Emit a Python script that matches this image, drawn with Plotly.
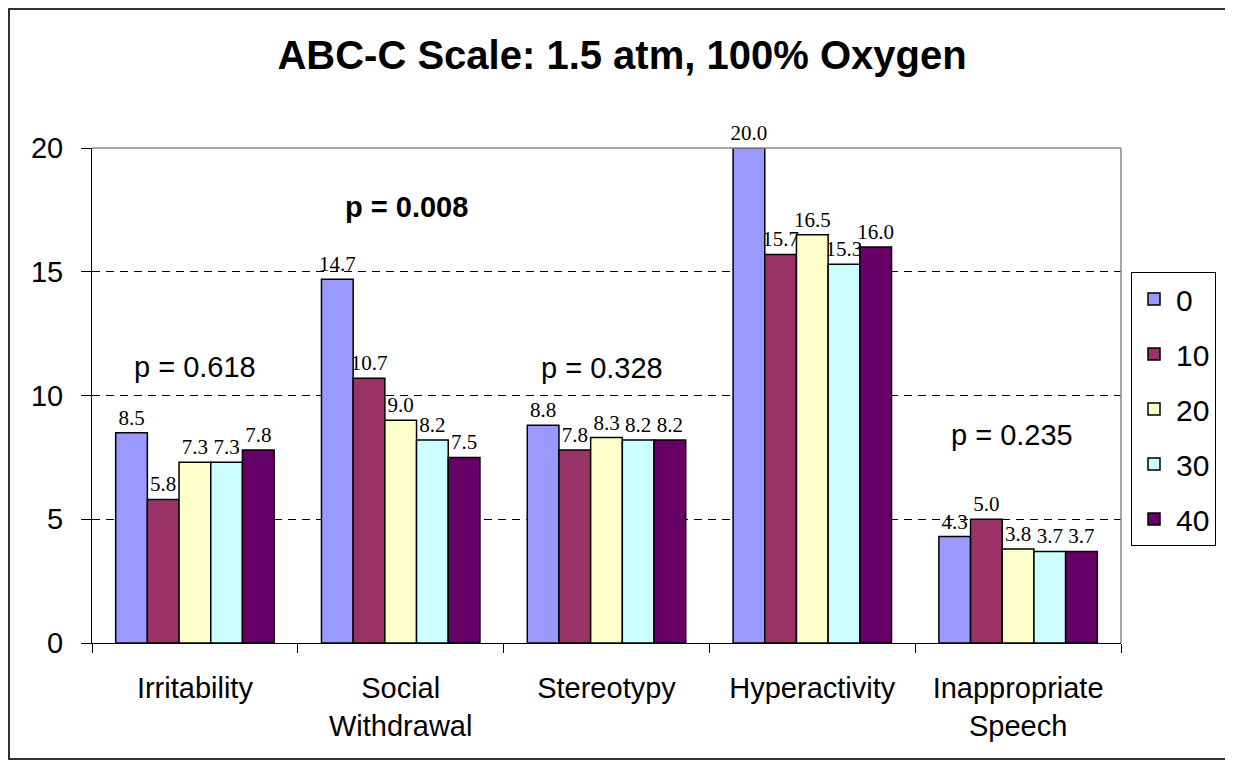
import plotly.graph_objects as go

categories = ["Irritability", "Social<br>Withdrawal", "Stereotypy", "Hyperactivity", "Inappropriate<br>Speech"]
series_names = ["0", "10", "20", "30", "40"]
values_0 = [8.5, 14.7, 8.8, 20.0, 4.3]
values_10 = [5.8, 10.7, 7.8, 15.7, 5.0]
values_20 = [7.3, 9.0, 8.3, 16.5, 3.8]
values_30 = [7.3, 8.2, 8.2, 15.3, 3.7]
values_40 = [7.8, 7.5, 8.2, 16.0, 3.7]
series_values = [values_0, values_10, values_20, values_30, values_40]
colors = ["#9999FF", "#993366", "#FFFFCC", "#CCFFFF", "#660066"]

p_labels = ["p = 0.618", "<b>p = 0.008</b>", "p = 0.328", "p = 0.187", "p = 0.235"]
p_x = [0.0, 1.03, 1.98, 3.2, 3.97]
p_y = [11.15, 17.6, 11.1, 20.95, 8.4]

y_ticks = [0, 5, 10, 15, 20]

fig = go.Figure()
for i, (name, vals) in enumerate(zip(series_names, series_values)):
    fig.add_trace(go.Bar(
        x=categories, y=vals, name=name,
        marker=dict(color=colors[i], line=dict(color="black", width=1.5)),
        text=[f"{v:.1f}" for v in vals],
        textposition="outside",
        textangle=0,
        constraintext="none",
        cliponaxis=False,
        textfont=dict(family="Liberation Serif, Times New Roman, serif", size=21, color="black"),
        legendgroup=name,
    ))

for t, x, y in zip(p_labels, p_x, p_y):
    fig.add_annotation(x=x, y=y, xref="x", yref="y", text=t, showarrow=False,
                       font=dict(family="Liberation Sans, Arial, sans-serif", size=29, color="black"),
                       xanchor="center", yanchor="middle")

W, H = 1225, 753
L, T, R, B = 84, 140, 1225 - 1113, 753 - 635
pw, ph = W - L - R, H - T - B

fig.update_layout(
    width=W, height=H,
    margin=dict(l=L, r=R, t=T, b=B),
    paper_bgcolor="white", plot_bgcolor="white",
    barmode="group", bargap=0.23, bargroupgap=0,
    font=dict(family="Liberation Sans, Arial, sans-serif", size=29, color="black"),
    title=dict(text="<b>ABC-C Scale: 1.5 atm, 100% Oxygen</b>", x=0.5045 * 1233 / W - 8 / W, xanchor="center",
               y=1 - 47 / H, yanchor="middle",
               font=dict(family="Liberation Sans, Arial, sans-serif", size=40, color="black")),
    legend=dict(x=(1131 - 8 - L) / pw, y=(635 - 264) / ph, xanchor="left", yanchor="top",
                bordercolor="black", borderwidth=1, bgcolor="white",
                font=dict(size=30), traceorder="grouped", tracegroupgap=13,
                itemwidth=34),
    xaxis=dict(showline=True, linecolor="black", linewidth=1, ticks="outside", tickson="boundaries",
               ticklen=9, tickcolor="black", showgrid=False, tickfont=dict(size=29),
               ticklabelstandoff=19),
    yaxis=dict(range=[0, 20], tickvals=y_ticks, showline=True, linecolor="black", linewidth=1,
               ticks="outside", ticklen=10, tickcolor="black", ticklabelstandoff=12,
               showgrid=True, gridcolor="black", griddash="8px,6px", gridwidth=1, zeroline=False,
               tickfont=dict(size=29)),
    shapes=[
        dict(type="line", xref="paper", yref="paper", x0=0, x1=1, y0=1, y1=1,
             line=dict(color="#888888", width=1.5), layer="above"),
        dict(type="line", xref="paper", yref="paper", x0=1, x1=1, y0=0, y1=1,
             line=dict(color="#888888", width=1.5), layer="above"),
        dict(type="rect", xref="paper", yref="paper",
             x0=(1 - L) / pw, x1=(1222 - L) / pw, y0=(H - B - 751) / ph, y1=(H - B - 1) / ph,
             line=dict(color="#333333", width=2), fillcolor="rgba(0,0,0,0)", layer="above"),
    ],
)

fig.write_html("out.html")
